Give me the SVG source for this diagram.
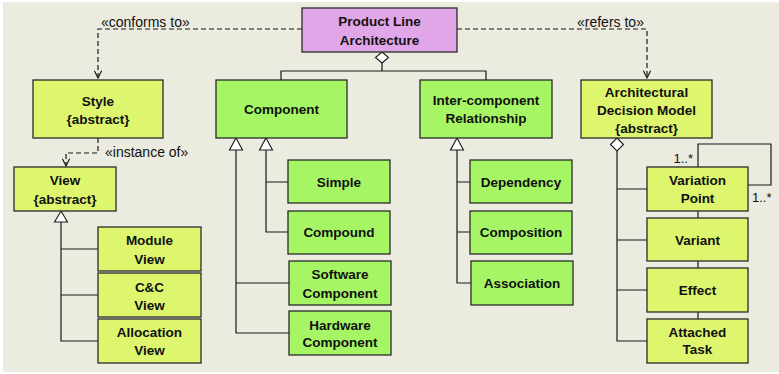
<svg xmlns="http://www.w3.org/2000/svg" width="779" height="374" viewBox="0 0 779 374">
<defs>
<style>
.y{fill:#DDF66E;stroke:#2a2a2a;stroke-width:1.3}
.g{fill:#A6F565;stroke:#2a2a2a;stroke-width:1.3}
.p{fill:#E1A6E8;stroke:#2a2a2a;stroke-width:1.3}
text{font-family:"Liberation Sans",Arial,sans-serif;fill:#111}
.t{font-size:13.5px;font-weight:bold;text-anchor:middle}
.l{font-size:14px}
.m{font-size:13px}
.ln{fill:none;stroke:#1a1a1a;stroke-width:1.2}
.d{fill:none;stroke:#1a1a1a;stroke-width:1.2;stroke-dasharray:5,3}
.tri{fill:#fff;stroke:#1a1a1a;stroke-width:1.1}
.dia{fill:#fff;stroke:#1a1a1a;stroke-width:1.1}
</style>
<marker id="open" viewBox="0 0 10 10" refX="9" refY="5" markerWidth="9" markerHeight="9" markerUnits="userSpaceOnUse" orient="auto">
<path d="M1,1 L9,5 L1,9" fill="none" stroke="#1a1a1a" stroke-width="1.3"/>
</marker>
</defs>
<rect x="0" y="0" width="779" height="374" fill="#ffffff"/>
<rect x="3" y="2" width="776" height="370" fill="#EBEBDF"/>

<g id="connectors">
<path class="d" d="M302,29 H98 V78" marker-end="url(#open)"/>
<path class="d" d="M457,29 H647 V78" marker-end="url(#open)"/>
<path class="d" d="M98,138 V153 H66 V166" marker-end="url(#open)"/>
<text class="l" x="101" y="27">«conforms to»</text>
<text class="l" x="577" y="27">«refers to»</text>
<text class="l" x="105" y="157">«instance of»</text>
<!-- PLA aggregation -->
<path class="ln" d="M382,63 V71 M281,80 V71 H486 V80"/>
<path class="dia" d="M382,52 L388.5,57.5 L382,63 L375.5,57.5 Z"/>
<!-- View generalization -->
<path class="ln" d="M61,222 V341 H98 M61,249 H98 M61,295 H98"/>
<path class="tri" d="M61,211 L67.5,222 L54.5,222 Z"/>
<!-- Component generalization -->
<path class="ln" d="M236,150 V333 H289 M236,283 H289"/>
<path class="ln" d="M266,150 V232 H288 M266,182 H288"/>
<path class="tri" d="M236,138 L242.5,150 L229.5,150 Z"/>
<path class="tri" d="M266,138 L272.5,150 L259.5,150 Z"/>
<!-- Inter-component generalization -->
<path class="ln" d="M457,150 V283 H471 M457,182 H470 M457,232 H470"/>
<path class="tri" d="M457,138 L463.5,150 L450.5,150 Z"/>
<!-- ADM aggregation -->
<path class="ln" d="M617,151 V341 H647 M617,189 H647 M617,240 H647 M617,290 H647"/>
<path class="dia" d="M617,138 L623.5,144.5 L617,151 L610.5,144.5 Z"/>
<!-- VP chain -->
<path class="ln" d="M698,211 V218 M698,261 V268 M698,312 V319"/>
<!-- self loop -->
<path class="ln" d="M698,167 V144 H771 V185 H748"/>
<text class="m" x="693" y="163" text-anchor="end">1..*</text>
<text class="m" x="752" y="202">1..*</text>
</g>

<g id="pla"><rect class="p" x="302" y="8" width="155" height="44"/><text class="t" x="379.5" y="26">Product Line</text><text class="t" x="379.5" y="45">Architecture</text></g>
<g id="style"><rect class="y" x="33" y="80" width="130" height="58"/><text class="t" x="98" y="106">Style</text><text class="t" x="98" y="124">{abstract}</text></g>
<g id="view"><rect class="y" x="14" y="167" width="102" height="44"/><text class="t" x="65" y="185">View</text><text class="t" x="65" y="204">{abstract}</text></g>
<g id="module-view"><rect class="y" x="98" y="227" width="103" height="44"/><text class="t" x="149.5" y="245">Module</text><text class="t" x="149.5" y="264">View</text></g>
<g id="cc-view"><rect class="y" x="98" y="273" width="103" height="44"/><text class="t" x="149.5" y="292">C&amp;C</text><text class="t" x="149.5" y="310">View</text></g>
<g id="allocation-view"><rect class="y" x="98" y="319" width="103" height="44"/><text class="t" x="149.5" y="337">Allocation</text><text class="t" x="149.5" y="355">View</text></g>

<g id="component"><rect class="g" x="216" y="80" width="131" height="58"/><text class="t" x="281.5" y="114">Component</text></g>
<g id="inter-component"><rect class="g" x="420" y="80" width="132" height="58"/><text class="t" x="486" y="105">Inter-component</text><text class="t" x="486" y="123">Relationship</text></g>
<g id="simple"><rect class="g" x="288" y="160" width="102" height="43"/><text class="t" x="339" y="187">Simple</text></g>
<g id="compound"><rect class="g" x="288" y="211" width="102" height="43"/><text class="t" x="339" y="237">Compound</text></g>
<g id="software-component"><rect class="g" x="289" y="261" width="102" height="44"/><text class="t" x="340" y="279">Software</text><text class="t" x="340" y="298">Component</text></g>
<g id="hardware-component"><rect class="g" x="289" y="311" width="102" height="44"/><text class="t" x="340" y="330">Hardware</text><text class="t" x="340" y="347">Component</text></g>
<g id="dependency"><rect class="g" x="470" y="160" width="102" height="43"/><text class="t" x="521" y="187">Dependency</text></g>
<g id="composition"><rect class="g" x="470" y="211" width="102" height="43"/><text class="t" x="521" y="237">Composition</text></g>
<g id="association"><rect class="g" x="471" y="261" width="102" height="44"/><text class="t" x="522" y="288">Association</text></g>

<g id="adm"><rect class="y" x="581" y="80" width="131" height="58"/><text class="t" x="646.5" y="97">Architectural</text><text class="t" x="646.5" y="115">Decision Model</text><text class="t" x="646.5" y="133">{abstract}</text></g>
<g id="variation-point"><rect class="y" x="647" y="167" width="101" height="44"/><text class="t" x="697.5" y="185">Variation</text><text class="t" x="697.5" y="203">Point</text></g>
<g id="variant"><rect class="y" x="647" y="218" width="101" height="43"/><text class="t" x="697.5" y="245">Variant</text></g>
<g id="effect"><rect class="y" x="647" y="268" width="101" height="44"/><text class="t" x="697.5" y="295">Effect</text></g>
<g id="attached-task"><rect class="y" x="647" y="319" width="101" height="44"/><text class="t" x="697.5" y="337">Attached</text><text class="t" x="697.5" y="354">Task</text></g>
</svg>
